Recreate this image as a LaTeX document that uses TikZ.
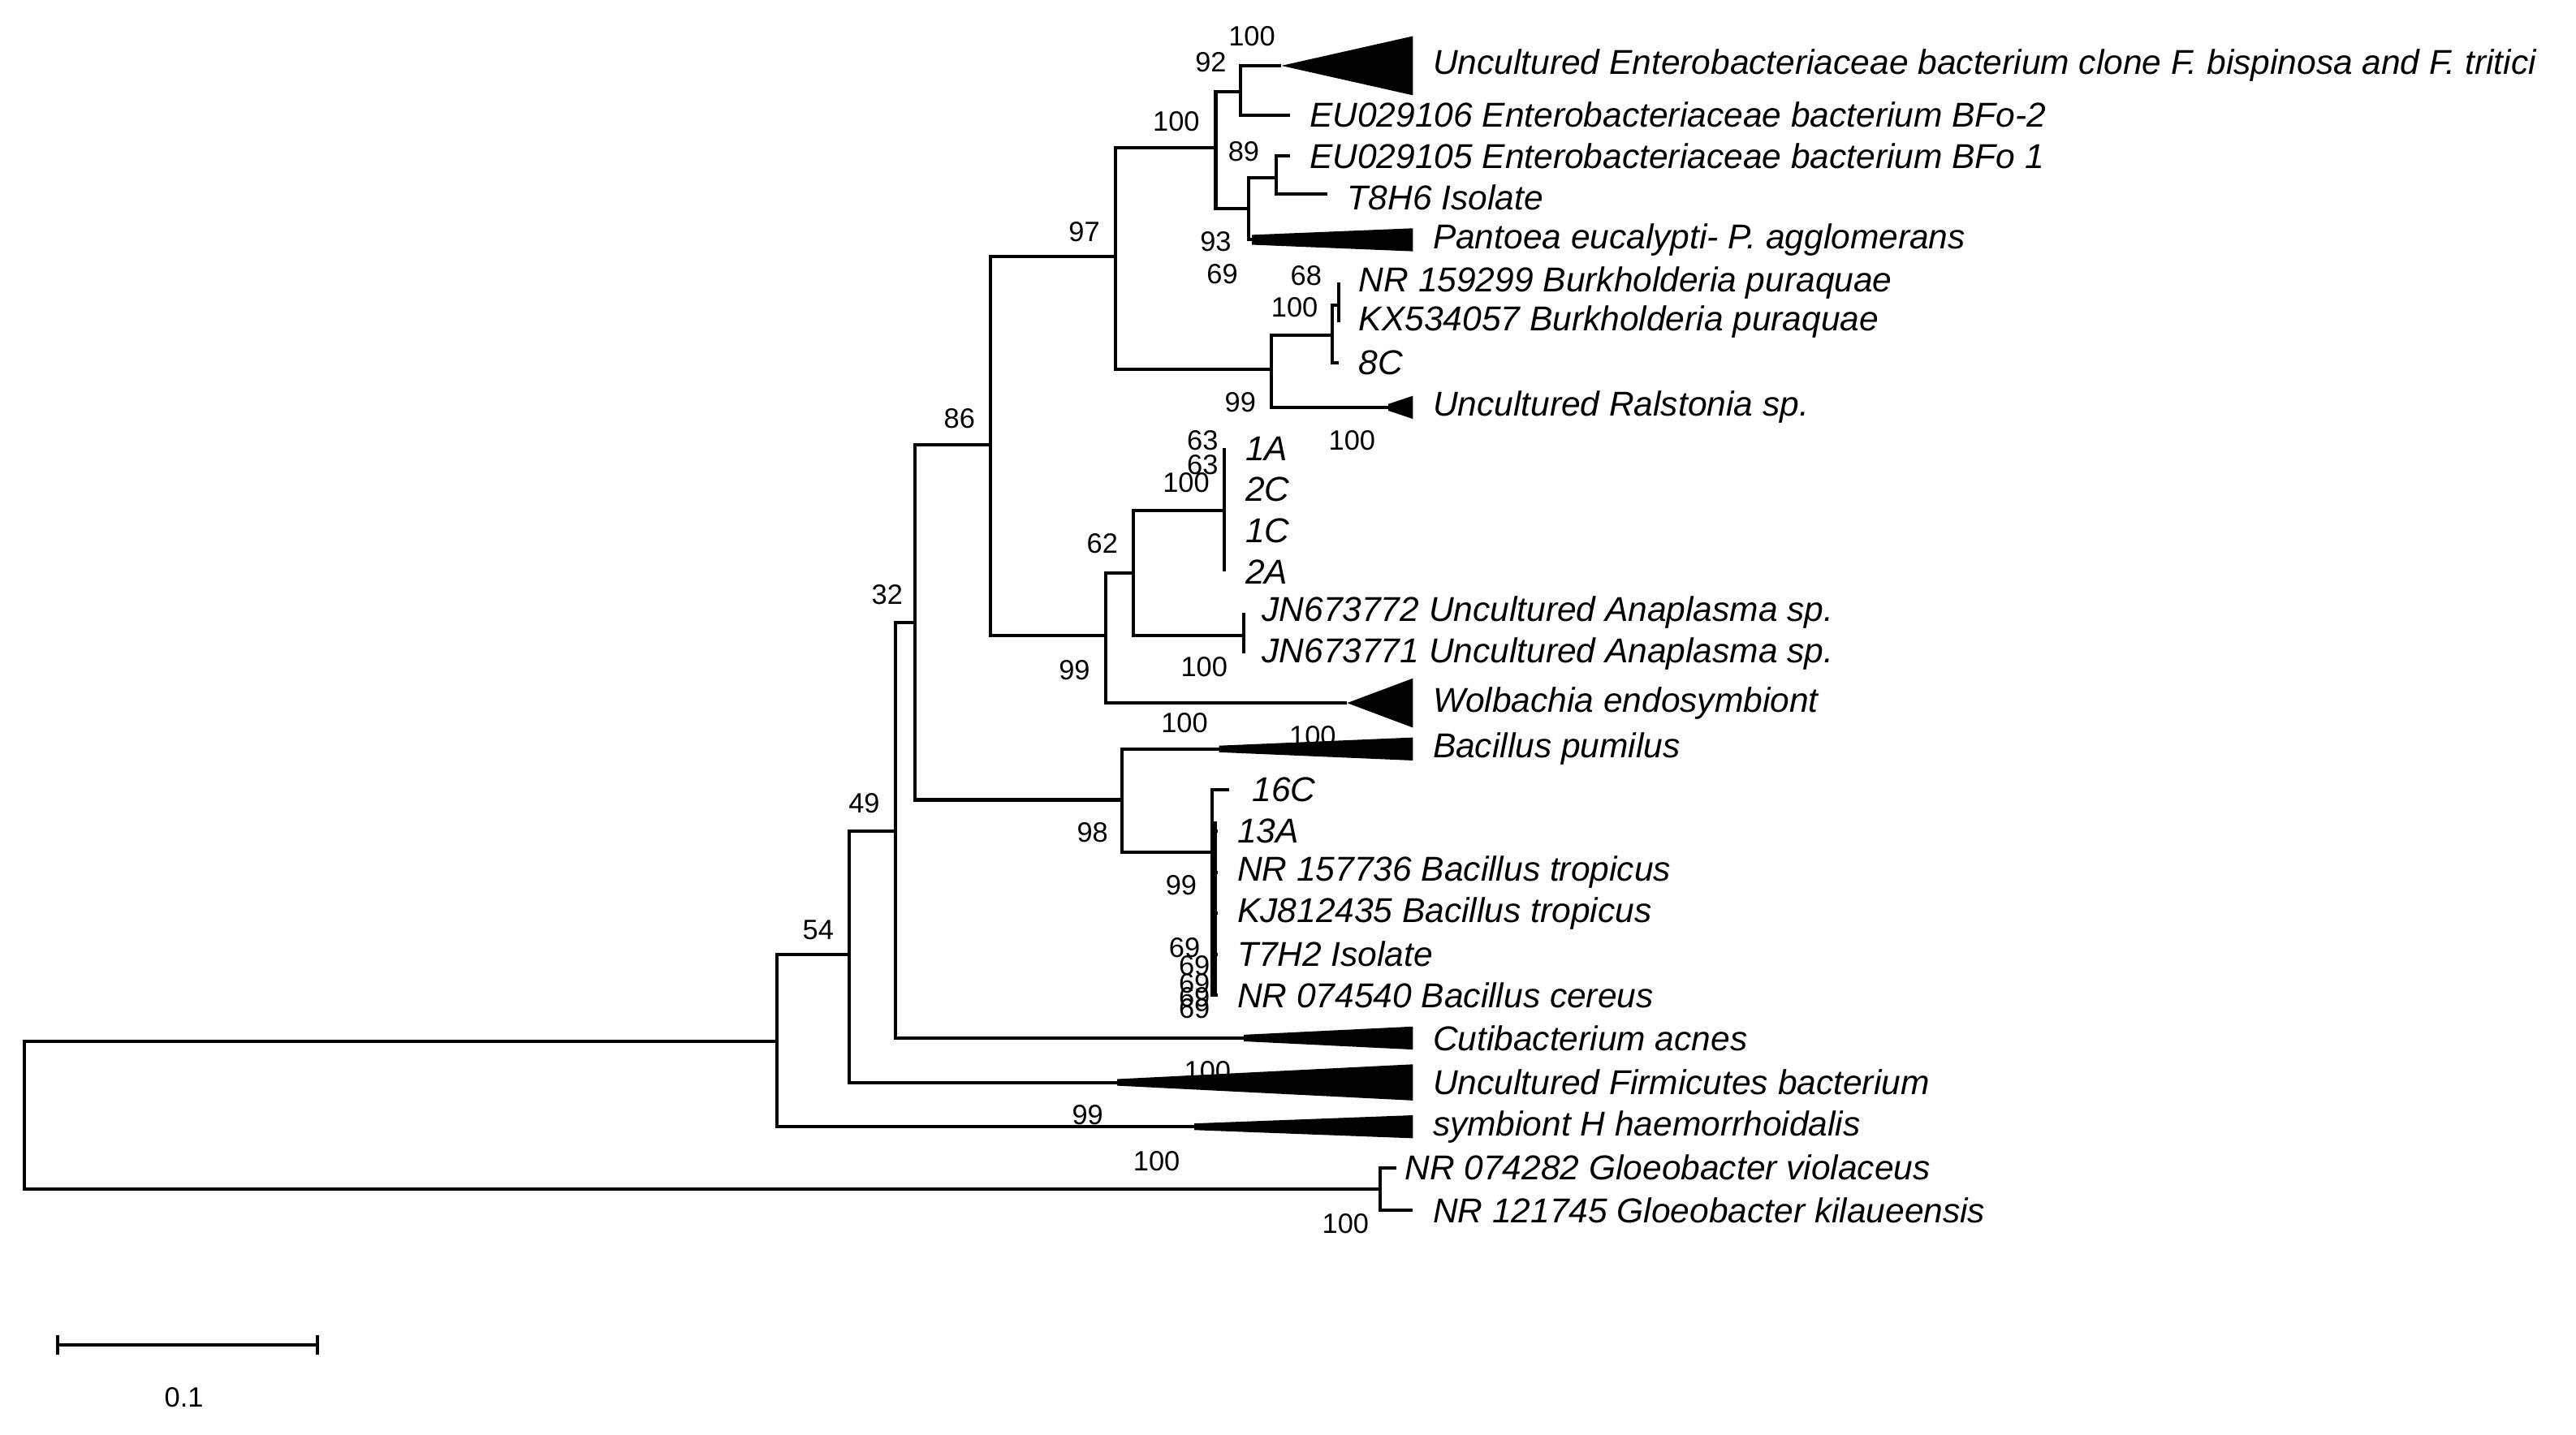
\documentclass[tikz,border=0pt]{standalone}
\usepackage{fontspec}
\setmainfont{Liberation Sans}
\begin{document}
\begin{tikzpicture}[x=1pt,y=-1pt,
  br/.style={line width=2pt},
  lab/.style={anchor=west,inner sep=0pt,font=\fontsize{21}{21}\selectfont\itshape},
  bs/.style={inner sep=0pt,font=\fontsize{17}{17}\selectfont},
  tri/.style={fill=black}]
\useasboundingbox (0,0) rectangle (1568,873.5);
% root
\draw[br] (473,634) -- (15,634) -- (15,724) -- (840,724);
\draw[br] (850,711) -- (840,711) -- (840,737) -- (860,737);
\node[lab] (g1) at (855,711) {NR 074282 Gloeobacter violaceus};
\node[lab] (g2) at (872,737) {NR 121745 Gloeobacter kilaueensis};
\node[bs] at (704,707) {100};
\node[bs] at (819,745) {100};
% node 54
\draw[br] (517,581) -- (473,581) -- (473,686) -- (727,686);
\fill[tri] (727,684) -- (860,679) -- (860,693) -- (727,688) -- cycle;
\node[lab] at (872,686) {symbiont H haemorrhoidalis};
\node[bs] at (498,566) {54};
\node[bs] at (662,679) {99};
% node 49
\draw[br] (545,506) -- (517,506) -- (517,659) -- (680,659);
\fill[tri] (680,657) -- (860,648) -- (860,670) -- (680,661) -- cycle;
\node[lab] at (872,659) {Uncultured Firmicutes bacterium};
\node[bs] at (526,489) {49};
\node[bs] at (735,652) {100};
% node 32
\draw[br] (557,379) -- (545,379) -- (545,632) -- (757,632);
\fill[tri] (757,630) -- (860,625) -- (860,639) -- (757,634) -- cycle;
\node[lab] at (872,632) {Cutibacterium acnes};
\node[bs] at (540,362) {32};
% node 86
\draw[br] (603,271) -- (557,271) -- (557,487) -- (683,487);
\node[bs] at (584,255) {86};
% Bacillus
\draw[br] (742,456) -- (683,456) -- (683,519) -- (738,519);
\fill[tri] (742,454) -- (860,449) -- (860,463) -- (742,458) -- cycle;
\node[lab] at (872,456) {Bacillus pumilus};
\node[bs] at (665,507) {98};
\node[bs] at (721,440) {100};
\node[bs] at (799,448) {100};
\draw[br] (748,481) -- (738,481) -- (738,606) -- (741,606);
\draw[line width=3.5pt] (739,500) -- (739,606);
\foreach \yy in {506,531,556,581} \draw[br] (738,\yy) -- (741,\yy);
\node[lab] at (762,481) {16C};
\node[lab] at (753,506) {13A};
\node[lab] at (753,531) {NR 157736 Bacillus tropicus};
\node[lab] at (753,556) {KJ812435 Bacillus tropicus};
\node[lab] at (753,581) {T7H2 Isolate};
\node[lab] at (753,606) {NR 074540 Bacillus cereus};
\node[bs] at (719,539) {99};
\node[bs] at (721,577) {69};
\node[bs] at (727,588) {69};
\node[bs] at (727,599) {69};
\node[bs] at (727,607) {69};
\node[bs] at (727,614) {69};
% node x=603
\draw[br] (679,156) -- (603,156) -- (603,387) -- (673,387);
\node[bs] at (660,141) {97};
% node x=679
\draw[br] (740,90) -- (679,90) -- (679,225) -- (774,225);
\node[bs] at (716,74) {100};
\draw[br] (755,56) -- (740,56) -- (740,127) -- (760,127);
\node[bs] at (737,38) {92};
\draw[br] (780,40) -- (755,40) -- (755,70) -- (785,70);
\fill[tri] (780,40) -- (860,22) -- (860,58) -- cycle;
\node[bs] at (762,22) {100};
\node[lab] at (872,40) {Uncultured Enterobacteriaceae bacterium clone F. bispinosa and F. tritici};
\node[lab] at (797,70) {EU029106 Enterobacteriaceae bacterium BFo-2};
\draw[br] (777,108) -- (760,108) -- (760,146) -- (762,146);
\node[bs] at (757,92) {89};
\draw[br] (785,95) -- (777,95) -- (777,118) -- (808,118);
\node[lab] at (797,95) {EU029105 Enterobacteriaceae bacterium BFo 1};
\node[lab] at (820,120) {T8H6 Isolate};
\fill[tri] (762,143) -- (860,139) -- (860,153) -- (762,149) -- cycle;
\node[lab] at (872,146) {Pantoea eucalypti- P. agglomerans};
\node[bs] at (740,147) {93};
\node[bs] at (744,167) {69};
% Burkholderia / Ralstonia
\draw[br] (811,204) -- (774,204) -- (774,248) -- (845,248);
\node[bs] at (755,245) {99};
\draw[br] (815,186) -- (811,186) -- (811,221) -- (815,221);
\draw[br] (815,172) -- (815,196);
\node[bs] at (788,187) {100};
\node[bs] at (795,168) {68};
\node[lab] at (827,172) {NR 159299 Burkholderia puraquae};
\node[lab] at (827,196) {KX534057 Burkholderia puraquae};
\node[lab] at (827,221) {8C};
\fill[tri] (845,246) -- (860,241) -- (860,255) -- (845,250) -- cycle;
\node[lab] at (872,248) {Uncultured Ralstonia sp.};
\node[bs] at (823,268) {100};
% Anaplasma / Wolbachia
\draw[br] (690,349) -- (673,349) -- (673,428) -- (820,428);
\fill[tri] (820,428) -- (860,413) -- (860,443) -- cycle;
\node[lab] at (872,428) {Wolbachia endosymbiont};
\node[bs] at (654,408) {99};
\node[bs] at (671,331) {62};
\draw[br] (745,311) -- (690,311) -- (690,387) -- (757,387);
\draw[br] (745,273) -- (745,348);
\node[bs] at (732,268) {63};
\node[bs] at (732,283) {63};
\node[bs] at (722,294) {100};
\node[lab] at (758,273) {1A};
\node[lab] at (758,298) {2C};
\node[lab] at (758,323) {1C};
\node[lab] at (758,348) {2A};
\draw[br] (757,373) -- (757,398);
\node[lab] at (768,373) {JN673772 Uncultured Anaplasma sp.};
\node[lab] at (768,398) {JN673771 Uncultured Anaplasma sp.};
\node[bs] at (733,406) {100};
% scale bar
\draw[br] (35,819) -- (193,819);
\draw[br] (35,813) -- (35,825);
\draw[br] (193,813) -- (193,825);
\node[bs] at (112,851) {0.1};
\end{tikzpicture}
\end{document}
